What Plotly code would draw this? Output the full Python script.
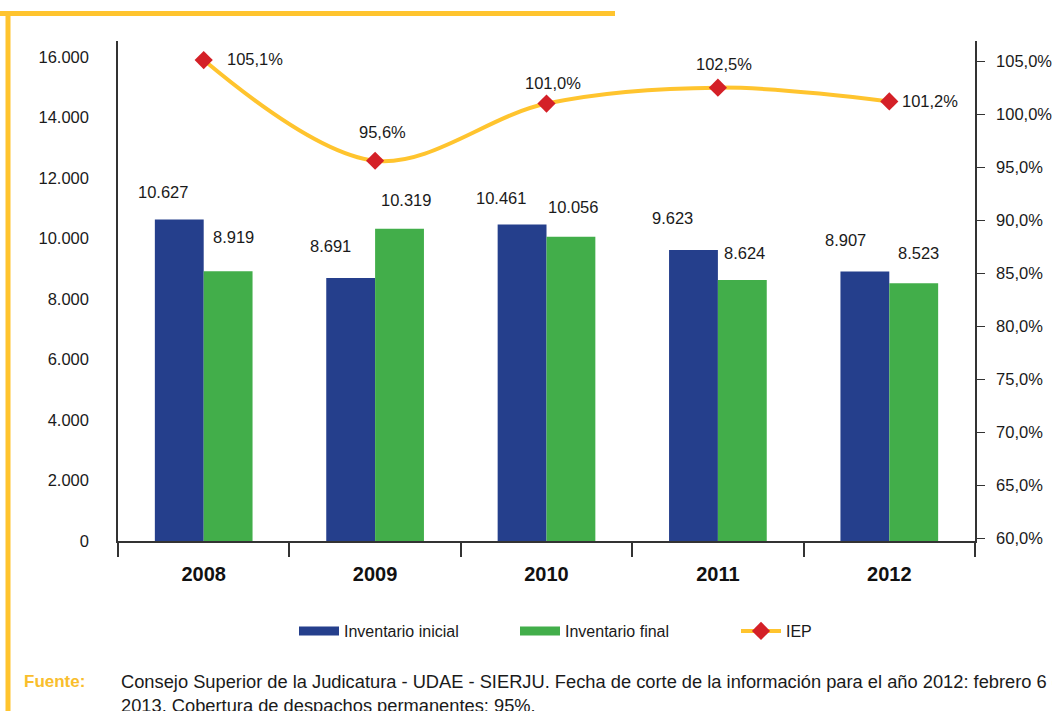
import plotly.graph_objects as go

# ---- data ----
years = ["2008", "2009", "2010", "2011", "2012"]
inventario_inicial = [10627, 8691, 10461, 9623, 8907]
inventario_final = [8919, 10319, 10056, 8624, 8523]
iep = [105.1, 95.6, 101.0, 102.5, 101.2]
left_ticks = [0, 2000, 4000, 6000, 8000, 10000, 12000, 14000, 16000]
right_ticks = [60, 65, 70, 75, 80, 85, 90, 95, 100, 105]

# ---- styling ----
BLUE = "#253F8C"
GREEN = "#42AE4A"
YELLOW = "#FFC42E"
RED = "#D42027"
AXIS = "#333333"
TXT = "#1a1a1a"
FONT = "Liberation Sans, Arial, Helvetica, sans-serif"
FS = 16.5

# label offsets (px) relative to bar centre/top
ini_dx = [-16, -20, -21, -21, -19]
ini_dy = [28, 32, 27, 32, 32]
fin_dx = [5, 6, 2, 2, 5]
fin_dy = [34, 29, 30, 27, 30]
iep_dx = [51, 7, 6, 6, 41]
iep_dy = [1, 29, 21, 24, 0]

def fmt_miles(v):
    return f"{v:,}".replace(",", ".")

def fmt_pct(v):
    return f"{v:.1f}".replace(".", ",") + "%"

W, H = 1052, 711
L, R, T, B = 118, 77, 41, 170
pw, ph = W - L - R, H - T - B

def px(x):
    return (x - L) / pw

def py(y):
    return (H - B - y) / ph

fig = go.Figure()

fig.add_trace(go.Bar(x=years, y=inventario_inicial, name="Inventario inicial",
                     marker=dict(color=BLUE, line=dict(width=0)), showlegend=False))
fig.add_trace(go.Bar(x=years, y=inventario_final, name="Inventario final",
                     marker=dict(color=GREEN, line=dict(width=0)), showlegend=False))

# legend proxies
fig.add_trace(go.Scatter(x=[None], y=[None], mode="lines", name="Inventario inicial",
                         line=dict(color=BLUE, width=9)))
fig.add_trace(go.Scatter(x=[None], y=[None], mode="lines", name="Inventario final",
                         line=dict(color=GREEN, width=9)))

fig.add_trace(go.Scatter(x=years, y=iep, name="IEP", yaxis="y2",
                         mode="lines+markers",
                         line=dict(color=YELLOW, width=4, shape="spline", smoothing=1.0),
                         marker=dict(symbol="diamond", size=14, color=RED),
                         cliponaxis=False))

annotations = []
BAR_HALF = 24.5
for i, yr in enumerate(years):
    annotations.append(dict(x=i, y=inventario_inicial[i], xref="x", yref="y",
                            text=fmt_miles(inventario_inicial[i]), showarrow=False,
                            xshift=-BAR_HALF + ini_dx[i], yshift=ini_dy[i],
                            font=dict(size=FS, color=TXT)))
    annotations.append(dict(x=i, y=inventario_final[i], xref="x", yref="y",
                            text=fmt_miles(inventario_final[i]), showarrow=False,
                            xshift=BAR_HALF + fin_dx[i], yshift=fin_dy[i],
                            font=dict(size=FS, color=TXT)))
    annotations.append(dict(x=i, y=iep[i], xref="x", yref="y2",
                            text=fmt_pct(iep[i]), showarrow=False,
                            xshift=iep_dx[i], yshift=iep_dy[i],
                            font=dict(size=FS, color=TXT)))

# footer
annotations.append(dict(x=px(22), y=py(681), xref="paper", yref="paper", text="<b>Fuente:</b>",
                        showarrow=False, xanchor="left", yanchor="middle",
                        font=dict(size=17, color="#F9BE2C")))
annotations.append(dict(x=px(119), y=py(669), xref="paper", yref="paper",
                        text="Consejo Superior de la Judicatura - UDAE - SIERJU. Fecha de corte de la información para el año 2012: febrero 6 de<br>2013. Cobertura de despachos permanentes: 95%.",
                        showarrow=False, xanchor="left", yanchor="top", align="left",
                        font=dict(size=18.3, color=TXT)))

shapes = [
    dict(type="line", xref="paper", yref="paper", x0=px(0), x1=px(615), y0=py(13.5), y1=py(13.5),
         line=dict(color=YELLOW, width=5)),
    dict(type="line", xref="paper", yref="paper", x0=px(8), x1=px(8), y0=py(11), y1=py(715),
         line=dict(color=YELLOW, width=5)),
]

fig.update_layout(
    width=W, height=H,
    margin=dict(l=L, r=R, t=T, b=B, autoexpand=False),
    paper_bgcolor="white", plot_bgcolor="white",
    font=dict(family=FONT, size=FS, color=TXT),
    barmode="group", bargap=0.43, bargroupgap=0,
    separators=",.",
    xaxis=dict(type="category", range=[-0.5, 4.5], showline=True, linecolor=AXIS, linewidth=1.5,
               ticks="outside", tickson="boundaries", ticklen=14, tickcolor=AXIS, tickwidth=1.5,
               tickfont=dict(size=20, family=FONT, color="#111111", weight="bold"),
               ticklabelstandoff=14, showgrid=False, zeroline=False),
    yaxis=dict(range=[0, 16000 * 500 / 484], tickvals=left_ticks,
               ticktext=[fmt_miles(v) for v in left_ticks],
               showline=True, linecolor=AXIS, linewidth=1.5, ticks="", showgrid=False,
               zeroline=False, ticklabelstandoff=24, tickfont=dict(size=FS)),
    yaxis2=dict(overlaying="y", side="right", range=[59.72, 106.9], tickvals=right_ticks,
                ticktext=[fmt_pct(v) for v in right_ticks],
                showline=True, linecolor=AXIS, linewidth=1.5, ticks="outside", ticklen=8,
                tickcolor=AXIS, showgrid=False, zeroline=False, ticklabelstandoff=8,
                tickfont=dict(size=FS)),
    legend=dict(orientation="h", x=px(294), xanchor="left", y=py(631), yanchor="middle",
                font=dict(size=16), entrywidth=166, itemwidth=40, bgcolor="rgba(0,0,0,0)"),
    annotations=annotations,
    shapes=shapes,
)

fig.write_html("out.html", config={"displayModeBar": False},
               post_script="document.body.style.margin='0px';document.body.style.overflow='hidden';")
